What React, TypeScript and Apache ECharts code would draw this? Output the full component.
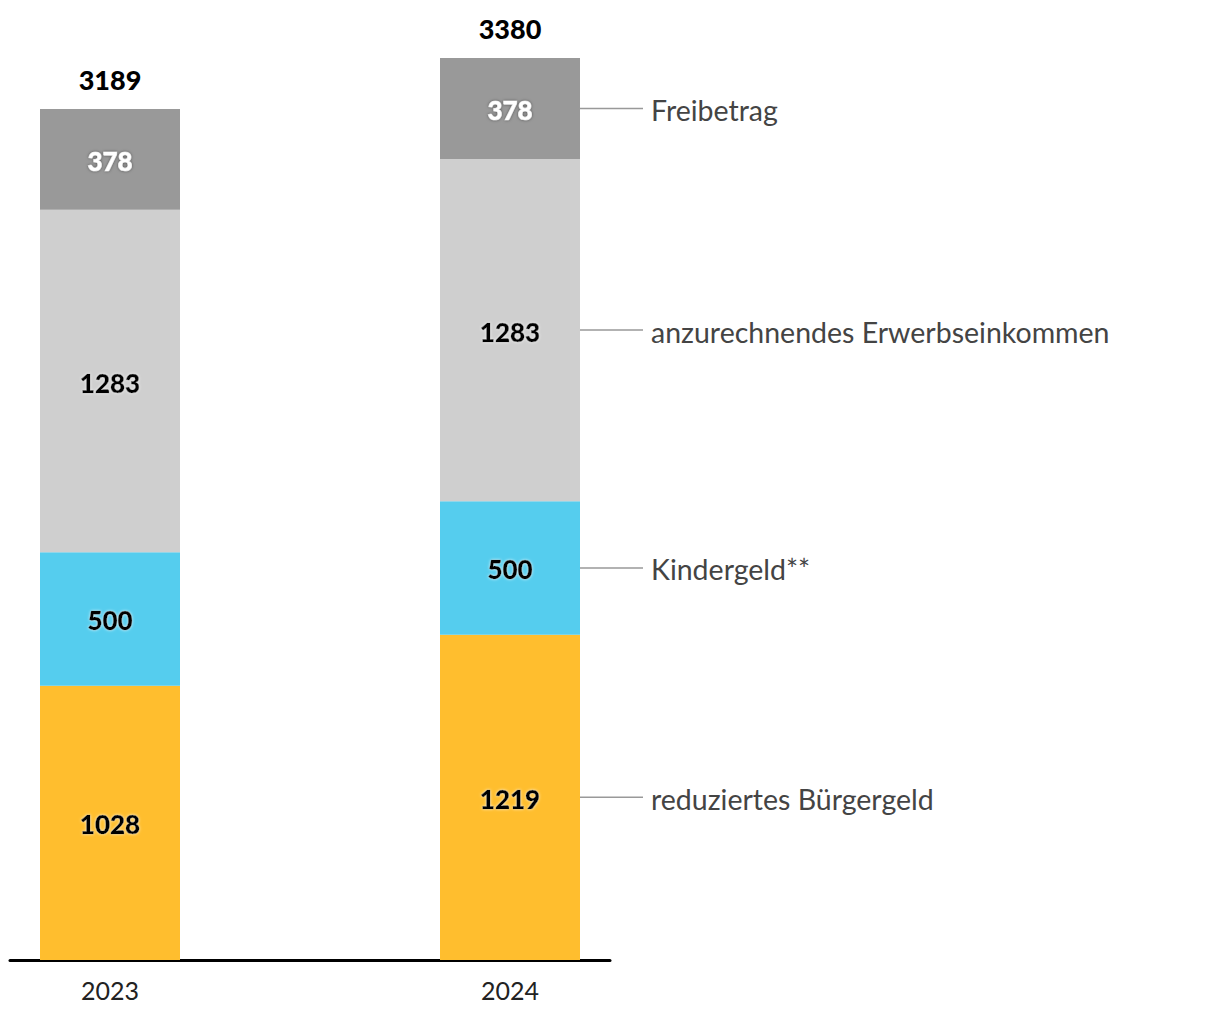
import React, { useEffect, useRef } from "react";
import * as echarts from "echarts";

const categories = ["2023", "2024"];
const seriesNames = [
  "reduziertes Bürgergeld",
  "Kindergeld**",
  "anzurechnendes Erwerbseinkommen",
  "Freibetrag",
];
const buergergeld = [1028, 1219];
const kindergeld = [500, 500];
const erwerbseinkommen = [1283, 1283];
const freibetrag = [378, 378];
const totals = [3189, 3380];

const colors = ["#FFBE2E", "#55CDEE", "#CFCFCF", "#999999"];
const FONT = 'Lato, "Noto Sans", sans-serif';

function spaced<T>(arr: T[]): (T | null)[] {
  return [arr[0], null, arr[1]];
}

export default function App() {
  const ref = useRef<HTMLDivElement>(null);
  useEffect(() => {
    document.body.style.margin = "0";
    if (!ref.current) return;
    const chart = echarts.init(ref.current, undefined, { renderer: "svg" });
    const stacks = [buergergeld, kindergeld, erwerbseinkommen, freibetrag];
    const darkLabel = {
      show: true,
      position: "inside",
      offset: [0, 1.5],
      fontFamily: FONT,
      fontWeight: 900,
      fontSize: 26,
      color: "#000",
      textBorderColor: "rgba(0,0,0,0.6)",
      textBorderWidth: 0.6,
      textShadowColor: "rgba(255,255,255,0.8)",
      textShadowBlur: 3,
    };
    const lightLabel = {
      ...darkLabel,
      color: "#fff",
      textBorderColor: "rgba(255,255,255,0.7)",
      textBorderWidth: 0.6,
      textShadowColor: "rgba(0,0,0,0.5)",
      textShadowBlur: 3,
    };
    const series: any[] = stacks.map((arr, i) => ({
      name: seriesNames[i],
      type: "bar",
      stack: "total",
      barWidth: 140,
      data: spaced(arr),
      itemStyle: { color: colors[i] },
      label: i === 3 ? lightLabel : darkLabel,
      emphasis: { disabled: true },
    }));
    series.push({
      name: "Summe",
      type: "bar",
      stack: "total",
      barWidth: 140,
      data: spaced(totals.map(() => 0)),
      itemStyle: { color: "transparent" },
      label: {
        show: true,
        position: "top",
        distance: 16,
        fontFamily: FONT,
        fontWeight: 900,
        fontSize: 27,
        color: "#000",
        formatter: (p: any) => String(totals[p.dataIndex === 0 ? 0 : 1]),
      },
      emphasis: { disabled: true },
    });

    chart.setOption({
      animation: false,
      grid: { left: 10, right: 610, top: 26, bottom: 60 },
      xAxis: {
        type: "category",
        data: [categories[0], "", categories[1]],
        axisLine: { show: true, lineStyle: { color: "#000", width: 3 } },
        axisTick: { show: false },
        axisLabel: { fontFamily: FONT, fontSize: 25, color: "#222", margin: 17 },
      },
      yAxis: { type: "value", min: 0, max: 3500, show: false, splitLine: { show: false } },
      series,
    });

    // Right-side annotations for the 2024 bar, positioned via the chart's scales
    const graphics: any[] = [];
    let cum = 0;
    stacks.forEach((arr, i) => {
      const v = arr[1];
      const mid = cum + v / 2;
      cum += v;
      const pt = chart.convertToPixel({ gridIndex: 0 }, [2, mid]) as number[];
      const right = pt[0] + 70;
      graphics.push({
        type: "line",
        shape: { x1: right, y1: pt[1], x2: right + 63, y2: pt[1] },
        style: { stroke: "#999", lineWidth: 1.5 },
        silent: true,
      });
      graphics.push({
        type: "text",
        x: right + 71,
        y: pt[1] + 1.5,
        style: {
          text: seriesNames[i],
          fontFamily: FONT,
          fontSize: 28.5,
          fill: "#444",
          verticalAlign: "middle",
          align: "left",
        },
        silent: true,
      });
    });
    chart.setOption({ graphic: graphics });

    return () => chart.dispose();
  }, []);
  return <div ref={ref} style={{ width: 1220, height: 1020 }} />;
}
